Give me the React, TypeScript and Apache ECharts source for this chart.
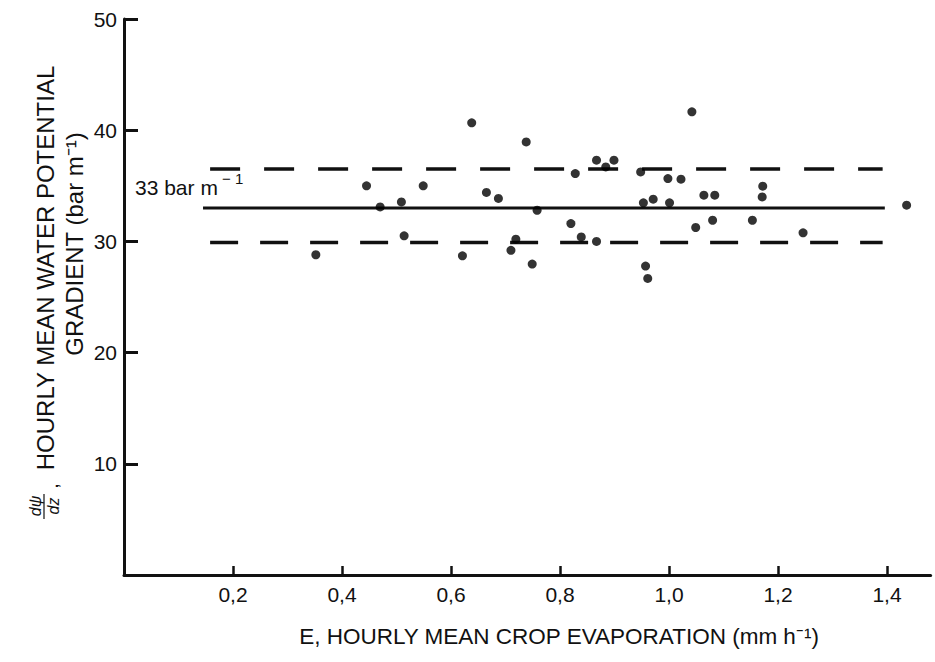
import React, { useEffect, useRef } from "react";
import * as echarts from "echarts";

// Hourly mean crop evaporation E (mm h-1)
const evaporation = [
  0.352, 0.445, 0.47, 0.509, 0.514, 0.549, 0.621, 0.638, 0.665, 0.687,
  0.71, 0.719, 0.738, 0.749, 0.758, 0.82, 0.828, 0.839, 0.867, 0.867,
  0.884, 0.899, 0.948, 0.953, 0.957, 0.961, 0.971, 0.998, 1.001, 1.022,
  1.042, 1.049, 1.064, 1.08, 1.084, 1.153, 1.171, 1.172, 1.246, 1.436,
];
// Hourly mean water potential gradient (bar m-1)
const gradient = [
  28.8, 35.0, 33.1, 33.55, 30.5, 35.0, 28.7, 40.66, 34.4, 33.86,
  29.2, 30.2, 38.95, 27.96, 32.8, 31.6, 36.1, 30.4, 37.3, 30.0,
  36.7, 37.3, 36.25, 33.47, 27.78, 26.67, 33.8, 35.65, 33.47, 35.6,
  41.65, 31.25, 34.16, 31.9, 34.16, 31.9, 34.0, 34.97, 30.77, 33.26,
];

const xTickValues = [0.2, 0.4, 0.6, 0.8, 1.0, 1.2, 1.4];
const yTickValues = [10, 20, 30, 40, 50];

const meanGradient = 33;
const upperLimit = 36.5;
const lowerLimit = 29.9;
const meanLineE = [0.145, 1.396];
const dashLineE = [0.158, 1.392];

const xTitle = "E, HOURLY MEAN CROP EVAPORATION (mm h\u207B\u00B9)";
const yTitle1 = "HOURLY MEAN WATER POTENTIAL";
const yTitle2 = "GRADIENT (bar m\u207B\u00B9)";

const FONT = "'Liberation Sans', Arial, Helvetica, sans-serif";
const INK = "#111";

export default function App() {
  const ref = useRef<HTMLDivElement>(null);

  useEffect(() => {
    if (!ref.current) return;
    const chart = echarts.init(ref.current, null, { renderer: "svg" });
    const points = evaporation.map((e, i) => [e, gradient[i]]);

    chart.setOption({
      animation: false,
      backgroundColor: "#fff",
      grid: { left: 124, right: 4.4, top: 19, bottom: 87 },
      xAxis: {
        type: "value",
        min: 0,
        max: 1.48,
        axisLine: { show: true, lineStyle: { color: INK, width: 3 } },
        axisTick: {
          show: true,
          inside: true,
          length: 9,
          customValues: xTickValues,
          lineStyle: { color: INK, width: 2.5 },
        },
        axisLabel: {
          customValues: xTickValues,
          formatter: (v: number) => v.toFixed(1).replace(".", ","),
          fontSize: 21,
          color: INK,
          fontFamily: FONT,
          margin: 9,
        },
        splitLine: { show: false },
      },
      yAxis: {
        type: "value",
        min: 0,
        max: 50,
        axisLine: { show: true, lineStyle: { color: INK, width: 3 } },
        axisTick: {
          show: true,
          inside: true,
          length: 14,
          customValues: yTickValues,
          lineStyle: { color: INK, width: 3 },
        },
        axisLabel: {
          customValues: yTickValues,
          fontSize: 21,
          color: INK,
          fontFamily: FONT,
          margin: 7,
        },
        splitLine: { show: false },
      },
      series: [
        {
          type: "line",
          data: meanLineE.map((e) => [e, meanGradient]),
          symbol: "none",
          lineStyle: { color: INK, width: 3 },
          z: 2,
        },
        {
          type: "line",
          data: dashLineE.map((e) => [e, upperLimit]),
          symbol: "none",
          lineStyle: { color: INK, width: 3.5, type: [30, 24] },
          z: 2,
        },
        {
          type: "line",
          data: dashLineE.map((e) => [e, lowerLimit]),
          symbol: "none",
          lineStyle: { color: INK, width: 3.5, type: [28, 22] },
          z: 2,
        },
        {
          type: "scatter",
          data: points,
          symbol: "circle",
          symbolSize: 9,
          itemStyle: { color: "#000" },
          z: 3,
        },
      ],
      graphic: [
        {
          type: "text",
          x: 135,
          y: 183,
          style: {
            text: "{b|33 bar m}{s| \u2212 1}",
            fontFamily: FONT,
            fill: INK,
            align: "left",
            verticalAlign: "middle",
            rich: {
              b: { fontSize: 21, fontFamily: FONT, fill: INK, lineHeight: 24, padding: [8, 0, 0, 0] },
              s: { fontSize: 15, fontFamily: FONT, fill: INK, lineHeight: 16, verticalAlign: "top" },
            },
          },
        },
        {
          type: "text",
          x: 559,
          y: 636,
          style: {
            text: xTitle,
            fontSize: 22.5,
            fontFamily: FONT,
            fill: INK,
            align: "center",
            verticalAlign: "middle",
          },
        },
        {
          type: "text",
          x: 45,
          y: 268,
          rotation: Math.PI / 2,
          style: {
            text: yTitle1,
            fontSize: 24,
            fontFamily: FONT,
            fill: INK,
            align: "center",
            verticalAlign: "middle",
          },
        },
        {
          type: "text",
          x: 74,
          y: 244,
          rotation: Math.PI / 2,
          style: {
            text: yTitle2,
            fontSize: 24,
            fontFamily: FONT,
            fill: INK,
            align: "center",
            verticalAlign: "middle",
          },
        },
        {
          type: "text",
          x: 35,
          y: 506,
          rotation: Math.PI / 2,
          style: {
            text: "d\u03C8",
            fontSize: 16,
            fontStyle: "italic",
            fontFamily: FONT,
            fill: INK,
            align: "center",
            verticalAlign: "middle",
          },
        },
        {
          type: "text",
          x: 53,
          y: 506,
          rotation: Math.PI / 2,
          style: {
            text: "dz",
            fontSize: 16,
            fontStyle: "italic",
            fontFamily: FONT,
            fill: INK,
            align: "center",
            verticalAlign: "middle",
          },
        },
        {
          type: "line",
          shape: { x1: 44, y1: 494, x2: 44, y2: 519 },
          style: { stroke: INK, lineWidth: 1.2 },
        },
        {
          type: "text",
          x: 51,
          y: 486,
          rotation: Math.PI / 2,
          style: {
            text: ",",
            fontSize: 20,
            fontFamily: FONT,
            fill: INK,
            align: "center",
            verticalAlign: "middle",
          },
        },
      ],
    });

    return () => chart.dispose();
  }, []);

  return (
    <div
      ref={ref}
      style={{
        position: "fixed",
        left: 0,
        top: 0,
        width: 935,
        height: 662,
        background: "#fff",
      }}
    />
  );
}
